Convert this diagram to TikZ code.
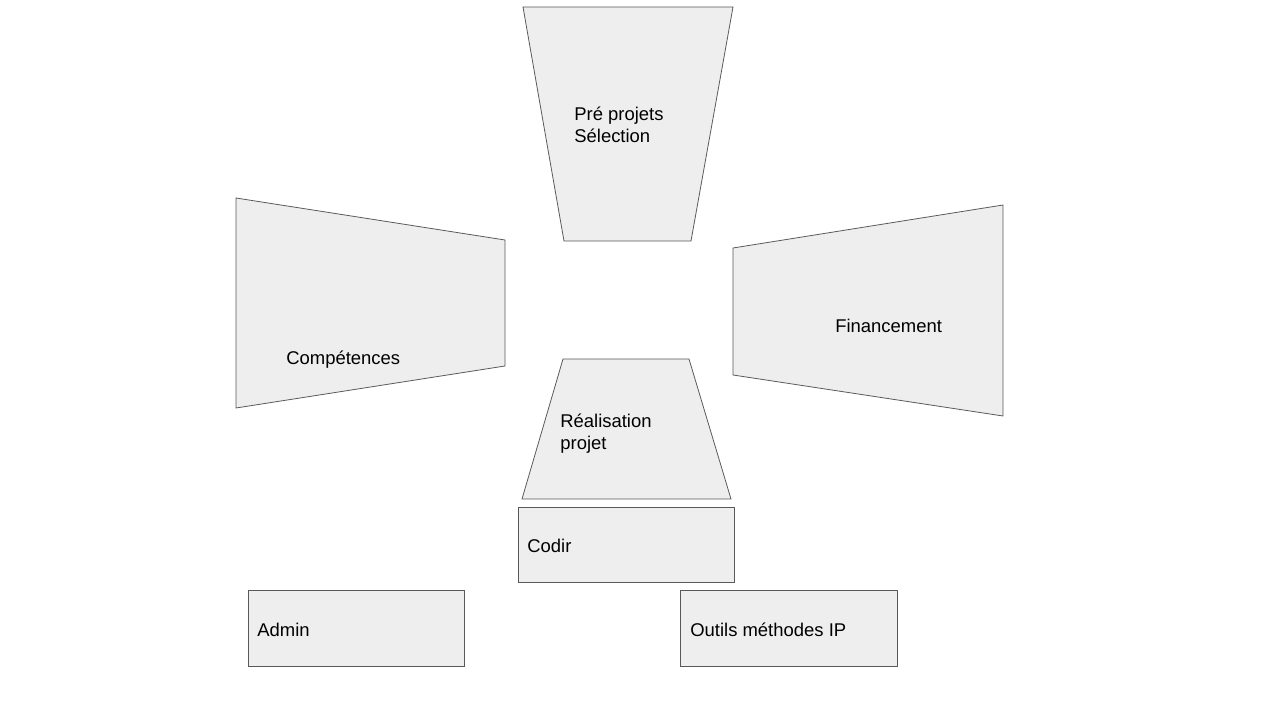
\documentclass[tikz,border=0pt]{standalone}
\usepackage{fontspec}
\setmainfont{Liberation Sans}
\usetikzlibrary{positioning}
\definecolor{boxfill}{HTML}{EEEEEE}
\definecolor{boxline}{HTML}{595959}

\begin{document}
\begin{tikzpicture}[x=0.02cm, y=-0.02cm,
  panel/.style={fill=boxfill, draw=boxline, line width=0.45pt, line join=miter},
  caption/.style={inner sep=0pt, anchor=west, align=left,
    font=\fontsize{10.5pt}{12.5pt}\selectfont}]
\useasboundingbox (0,0) rectangle (1279,719);
% funnel shapes
\draw[panel] (523,7) -- (733,7) -- (691,241) -- (564,241) -- cycle;
\draw[panel] (236,198) -- (505,240) -- (505,366) -- (236,408) -- cycle;
\draw[panel] (733,248) -- (1003,205) -- (1003,416) -- (733,375) -- cycle;
\draw[panel] (563,359) -- (689,359) -- (731,499) -- (522,499) -- cycle;
% plain boxes
\draw[panel] (518,507) rectangle (734,582);
\draw[panel] (248,590) rectangle (464,666);
\draw[panel] (680,590) rectangle (897,666);
% labels
\node[caption] (preprojets) at (574,125) {Pré projets\\Sélection};
\node[caption] (competences) at (286,360) {Compétences};
\node[caption] (financement) at (835,326) {Financement};
\node[caption] (realisation) at (560,434) {Réalisation\\projet};
\node[caption] (codir) at (527,546) {Codir};
\node[caption] (admin) at (257,630) {Admin};
\node[caption] (outils) at (690,630) {Outils méthodes IP};
\end{tikzpicture}
\end{document}
